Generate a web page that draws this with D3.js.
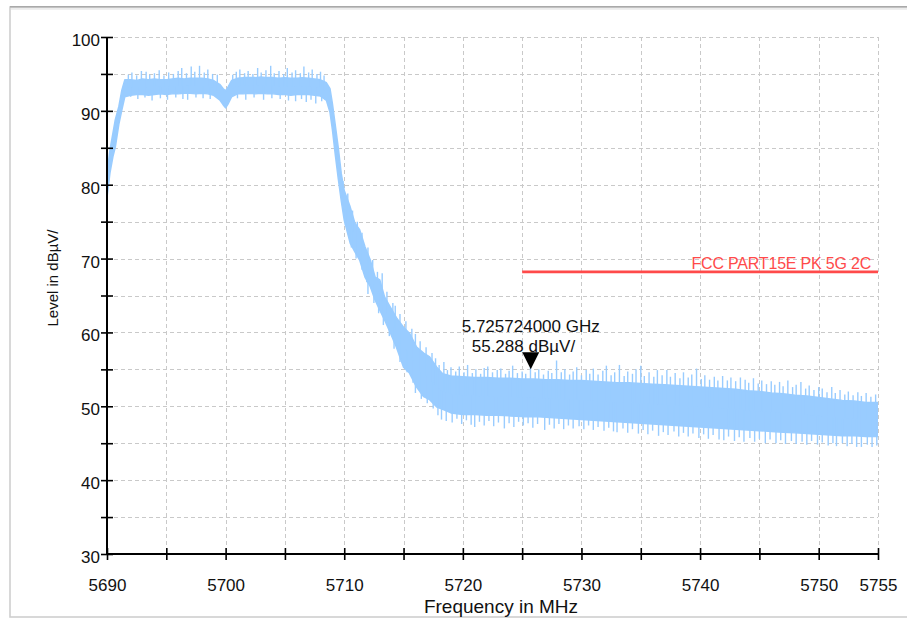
<!DOCTYPE html>
<html><head><meta charset="utf-8">
<script src="https://cdn.jsdelivr.net/npm/d3@7"></script>
<style>
body{margin:0;background:#fff}
svg{display:block}
text{font-family:"Liberation Sans",Arial,sans-serif}
</style>
</head><body>
<svg id="c" width="907" height="618"></svg>
<script>
// ---------- data ----------
// band of the noisy trace: lower and upper envelope of the dense core
const traceFreq = [5690.0,5690.25,5690.5,5690.7,5691.0,5691.25,5691.5,5692.0,5692.5,5693.0,5693.5,5694.0,5694.5,5695.0,5695.5,5696.0,5696.5,5697.0,5697.5,5698.0,5698.5,5699.0,5699.5,5699.8,5700.0,5700.2,5700.5,5701.0,5701.5,5702.0,5702.5,5703.0,5703.5,5704.0,5704.5,5705.0,5705.5,5706.0,5706.5,5707.0,5707.5,5708.0,5708.5,5708.8,5709.0,5709.25,5709.5,5709.75,5710.0,5710.5,5710.9,5711.3,5711.75,5712.2,5712.6,5713.0,5713.4,5713.9,5714.4,5715.0,5715.5,5716.1,5716.7,5717.2,5717.8,5718.3,5719.0,5720,5721,5722,5723,5724,5725,5726,5727,5728,5729,5730,5731,5732,5733,5734,5735,5736,5737,5738,5739,5740,5741,5742,5743,5744,5745,5746,5747,5748,5749,5750,5751,5752,5753,5754,5755];
const traceLow  = [78.3,81.6,83.8,85.1,88.2,90.1,91.9,92.1,92.2,92.2,92.1,92.2,92.3,92.2,92.3,92.3,92.4,92.4,92.3,92.4,92.3,92.1,91.5,90.8,90.4,90.9,91.9,92.3,92.3,92.4,92.3,92.4,92.3,92.3,92.2,92.2,92.1,92.2,92.2,92.2,92.1,92.0,91.4,89.8,87.5,84.0,80.8,77.8,75.2,72.1,70.9,69.8,67.5,66.2,64.4,63.0,61.7,59.9,58.0,55.3,54.5,52.6,51.3,50.9,49.9,49.6,49.1,48.9,48.9,48.8,48.8,48.7,48.6,48.6,48.5,48.4,48.3,48.2,48.1,48.0,47.9,47.8,47.7,47.6,47.5,47.4,47.3,47.2,47.1,47.0,46.9,46.8,46.7,46.6,46.5,46.4,46.3,46.2,46.1,46.0,46.0,45.9,45.9];
const traceHigh = [81.6,84.7,87.0,88.8,90.6,92.8,94.2,94.2,94.1,94.3,94.2,94.3,94.2,94.2,94.3,94.4,94.3,94.4,94.4,94.4,94.3,94.1,93.6,93.0,92.7,93.2,94.1,94.4,94.5,94.5,94.5,94.6,94.5,94.5,94.4,94.5,94.4,94.4,94.5,94.4,94.3,94.2,93.8,93.0,91.0,88.0,85.0,81.5,79.2,77.0,74.8,73.9,71.6,69.8,67.5,67.1,64.8,63.4,62.0,60.7,59.9,58.0,57.2,56.7,55.3,54.4,54.1,54.0,53.9,53.9,53.8,53.8,53.7,53.7,53.6,53.6,53.5,53.5,53.4,53.3,53.2,53.2,53.1,53.0,52.9,52.8,52.7,52.6,52.5,52.4,52.3,52.1,52.0,51.8,51.7,51.5,51.4,51.2,51.0,50.8,50.7,50.5,50.5];

// isolated noise spikes seen above the band
const spikeUpFreq  = [5691.8,5692.1,5692.5,5692.9,5693.3,5693.6,5694.0,5694.4,5694.8,5695.2,5695.6,5696.0,5696.3,5696.7,5697.1,5697.4,5697.8,5698.2,5698.5,5698.9,5699.3,5700.6,5700.9,5701.2,5701.6,5701.9,5702.3,5702.7,5703.0,5703.4,5703.8,5704.1,5704.5,5704.9,5705.2,5705.6,5705.9,5706.3,5706.6,5707.0,5707.3,5707.7,5708.0,5708.3,
  5709.9,5710.3,5710.7,5711.1,5711.5,5712.0,5712.4,5712.8,5713.2,5713.6,5714.1,5714.3,5714.7,5715.2,5715.7,5716.0,5716.4,5716.9,5717.4,5717.7,
  5718.0,5718.4,5718.7,5719.0,5719.4,5719.7,5720.1,5720.4,5720.8,5721.1,5721.5,5721.8,5722.1,5722.5,5722.9,5723.2,5723.6,5723.9,5724.2,5724.6,5725.0,5725.3,5725.7,5726.1,5726.4,5726.8,5727.2,5727.5,5727.9,5728.3,5728.6,5729.0,5729.3,5729.6,5730.0,5730.4,5730.7,5731.0,5731.4,5731.8,5732.1,5732.5,5732.8,5733.2,5733.6,5733.9,5734.3,5734.6,5735.0,5735.3,5735.7,5736.1,5736.4,5736.8,5737.2,5737.5,5737.9,5738.3,5738.6,5739.0,5739.3,5739.7,5740.1,5740.4,5740.8,5741.2,5741.5,5741.9,5742.3,5742.6,5743.0,5743.4,5743.8,5744.1,5744.5,5744.9,5745.2,5745.6,5746.0,5746.3,5746.7,5747.0,5747.4,5747.8,5748.1,5748.5,5748.9,5749.2,5749.6,5750.0,5750.3,5750.7,5751.1,5751.4,5751.8,5752.2,5752.5,5752.9,5753.3,5753.6,5754.0,5754.4,5754.8];
const spikeUpLevel = [94.9,95.2,94.8,95.4,95.3,94.9,95.1,95.5,94.8,95.2,95.0,95.4,95.8,95.1,96.0,95.3,96.1,95.2,95.6,95.0,94.9,94.9,95.3,95.6,95.1,95.4,95.0,95.8,95.2,95.5,96.1,95.1,95.4,95.0,95.8,95.2,95.5,95.1,96.0,95.2,95.6,95.0,95.3,94.8,
  80.5,78.8,76.5,75.0,73.5,71.5,69.8,68.2,68.0,65.5,64.0,63.6,62.5,61.5,60.5,59.8,58.8,58.0,57.2,56.5,
  55.6,56.0,54.9,55.3,54.7,55.4,54.6,55.6,54.5,55.0,54.4,55.2,55.4,54.6,54.9,55.1,54.4,54.8,55.5,54.5,54.7,54.4,55.3,54.6,55.0,54.3,54.8,54.5,56.2,54.6,55.0,54.3,54.7,55.3,54.2,54.9,54.4,55.1,54.3,54.8,55.5,54.2,54.6,55.6,54.1,54.7,54.4,55.0,55.5,54.1,54.6,54.0,54.9,54.2,54.9,54.0,54.5,53.8,54.6,53.9,54.3,55.1,53.7,54.2,53.6,54.0,53.5,54.1,53.5,53.9,53.4,53.9,53.6,53.2,53.8,53.1,53.5,53.0,53.4,52.9,53.3,52.7,53.5,52.6,52.9,53.3,52.4,52.8,52.2,52.6,52.4,51.9,52.6,51.8,52.2,51.6,52.0,51.5,51.9,51.4,51.8,51.3,51.6];
// isolated noise spikes seen below the band
const spikeDownFreq  = [5692.0,5692.6,5693.2,5693.8,5694.5,5695.1,5695.8,5696.4,5696.8,5697.5,5698.1,5698.7,5701.0,5701.7,5702.4,5703.2,5703.9,5704.6,5705.3,5705.9,5706.4,5706.8,5707.2,5707.6,5708.1,
  5710.1,5710.6,5711.0,5711.5,5711.9,5712.0,5712.5,5712.9,5713.3,5713.8,5714.2,5714.7,5715.3,5715.8,5716.0,5716.5,5717.0,5717.5,5717.9,
  5718.2,5718.6,5719.1,5719.5,5719.9,5720.3,5720.7,5721.0,5721.4,5721.8,5722.2,5722.6,5723.0,5723.5,5723.9,5724.3,5724.7,5725.1,5725.5,5725.9,5726.3,5726.9,5727.3,5727.7,5728.1,5728.5,5728.9,5729.3,5729.8,5730.2,5730.6,5731.0,5731.4,5731.9,5732.3,5732.7,5733.0,5733.5,5733.9,5734.3,5734.8,5735.2,5735.6,5736.0,5736.5,5736.9,5737.3,5737.8,5738.2,5738.6,5739.0,5739.4,5739.9,5740.3,5740.7,5741.1,5741.6,5742.0,5742.4,5742.9,5743.3,5743.7,5744.2,5744.6,5745.0,5745.5,5745.9,5746.4,5746.8,5747.2,5747.7,5748.1,5748.6,5749.0,5749.4,5749.9,5750.3,5750.8,5751.2,5751.5,5752.0,5752.4,5752.8,5753.2,5753.6,5754.1,5754.5,5754.9];
const spikeDownLevel = [91.9,91.6,91.8,91.4,91.7,91.5,91.8,91.6,91.5,91.8,91.7,91.6,91.7,91.5,91.8,91.5,91.7,91.6,91.4,91.3,91.6,91.2,91.5,91.0,91.3,
  74.5,71.5,70.0,68.5,66.8,65.2,64.0,62.6,61.0,59.5,57.8,56.0,54.6,53.2,51.8,51.0,50.4,49.7,48.8,
  48.2,48.0,47.8,48.3,47.6,48.1,47.5,47.2,47.9,47.4,48.0,47.3,47.8,47.0,47.7,47.2,47.9,47.4,47.7,47.1,47.6,46.8,47.5,47.0,47.6,46.9,47.4,47.0,47.3,46.9,47.4,46.8,47.2,46.7,47.1,46.6,46.5,47.0,46.4,46.9,46.3,46.8,46.2,46.7,46.0,46.5,46.1,46.6,45.9,46.4,45.9,46.3,45.7,46.2,45.6,46.1,45.5,45.4,45.9,45.3,45.8,45.2,45.7,45.2,45.6,45.0,45.5,45.0,45.4,44.9,45.3,44.9,45.2,44.8,45.3,44.8,45.1,44.7,45.0,44.6,45.0,44.6,44.9,44.5,44.5,44.8,44.5,44.7];

const limitFreq  = [5725, 5755];
const limitLevel = 68.2;
const limitName  = "FCC PART15E PK 5G 2C";

const markerFreq  = 5725.724;
const markerLevel = 55.288;
const markerLines = ["5.725724000 GHz", "55.288 dBµV/"];

const xTickValues = [5690,5695,5700,5705,5710,5715,5720,5725,5730,5735,5740,5745,5750,5755];
const xTickLabels = ["5690","","5700","","5710","","5720","","5730","","5740","","5750","5755"];
const yTickValues = [30,35,40,45,50,55,60,65,70,75,80,85,90,95,100];
const yTickLabels = ["30","","40","","50","","60","","70","","80","","90","","100"];
const xTitle = "Frequency in MHz";
const yTitle = "Level in dBµV/";

// ---------- drawing ----------
const svg = d3.select("#c");
const L = 107, R = 878, T = 37, B = 554;
const x = d3.scaleLinear().domain([5690, 5755]).range([L, R]);
const y = d3.scaleLinear().domain([30, 100]).range([B, T]);

// frame
svg.append("rect").attr("x",10).attr("y",7).attr("width",930).attr("height",610)
  .attr("fill","#fff").attr("stroke","#cfcfcf").attr("stroke-width",1.6);
svg.append("rect").attr("x",11).attr("y",7.8).attr("width",930).attr("height",2)
  .attr("fill","#ececec");
svg.append("line").attr("x1",10).attr("x2",907).attr("y1",6.8).attr("y2",6.8)
  .attr("stroke","#a9a9a9").attr("stroke-width",1.4);

const defs = svg.append("defs");
defs.append("clipPath").attr("id","plot").append("rect")
  .attr("x",L).attr("y",T).attr("width",R-L).attr("height",B-T);

// grid
const grid = svg.append("g").attr("stroke","#c9c9c9").attr("stroke-width",1)
  .attr("stroke-dasharray","4,3").attr("shape-rendering","crispEdges");
grid.selectAll(".gx").data(xTickValues.filter(v => v !== 5690)).join("line")
  .attr("x1",d=>Math.round(x(d))+0.5).attr("x2",d=>Math.round(x(d))+0.5).attr("y1",T).attr("y2",B);
grid.selectAll(".gy").data(yTickValues.filter(v => v !== 30)).join("line")
  .attr("y1",d=>Math.round(y(d))+0.5).attr("y2",d=>Math.round(y(d))+0.5).attr("x1",L).attr("x2",R);

// trace
const plot = svg.append("g").attr("clip-path","url(#plot)");
const blue = "#99ccff";
const traceData = traceFreq.map((f,i)=>({f, lo:traceLow[i], hi:traceHigh[i]}));
plot.append("path").datum(traceData)
  .attr("d", d3.area().x(d=>x(d.f)).y0(d=>y(d.lo)).y1(d=>y(d.hi)))
  .attr("fill",blue).attr("stroke",blue).attr("stroke-width",1.5).attr("stroke-linejoin","round");

const hiAt = d3.scaleLinear().domain(traceFreq).range(traceHigh);
const loAt = d3.scaleLinear().domain(traceFreq).range(traceLow);
const mid = f => (hiAt(f)+loAt(f))/2;
plot.selectAll(".su").data(spikeUpFreq.map((f,i)=>({f,v:spikeUpLevel[i]}))).join("line")
  .attr("x1",d=>x(d.f)).attr("x2",d=>x(d.f))
  .attr("y1",d=>y(d.v)).attr("y2",d=>y(mid(d.f)))
  .attr("stroke",blue).attr("stroke-width",1.4);
plot.selectAll(".sd").data(spikeDownFreq.map((f,i)=>({f,v:spikeDownLevel[i]}))).join("line")
  .attr("x1",d=>x(d.f)).attr("x2",d=>x(d.f))
  .attr("y1",d=>y(d.v)).attr("y2",d=>y(mid(d.f)))
  .attr("stroke",blue).attr("stroke-width",1.4);

// limit line
const red = "#ff4a4a";
svg.append("line").attr("x1",x(limitFreq[0])).attr("x2",x(limitFreq[1]))
  .attr("y1",y(limitLevel)).attr("y2",y(limitLevel))
  .attr("stroke",red).attr("stroke-width",2.7);
svg.append("text").attr("x",x(limitFreq[1])-7).attr("y",y(limitLevel)-3)
  .attr("text-anchor","end").attr("fill",red).attr("font-size",16)
  .attr("letter-spacing","-0.2").text(limitName);

// marker
const mx = x(markerFreq), my = y(markerLevel);
svg.append("path")
  .attr("d",`M${mx-8.5},${my-15}L${mx+8.5},${my-15}L${mx},${my+2}Z`).attr("fill","#000");
svg.append("text").attr("x",mx).attr("y",my-35.5).attr("text-anchor","middle")
  .attr("font-size",17).attr("fill","#111").text(markerLines[0]);
svg.append("text").attr("x",mx-59).attr("y",my-15.5)
  .attr("font-size",17).attr("fill","#111").text(markerLines[1]);

// axes
const yAxis = svg.append("g").attr("transform",`translate(${L},0)`)
  .call(d3.axisLeft(y).tickValues(yTickValues).tickFormat((d,i)=>yTickLabels[i]).tickSize(6).tickPadding(7));
const xAxis = svg.append("g").attr("transform",`translate(0,${B})`)
  .call(d3.axisBottom(x).tickValues(xTickValues).tickFormat((d,i)=>xTickLabels[i]).tickSize(6).tickPadding(19));
[yAxis, xAxis].forEach(g=>{
  g.select(".domain").attr("stroke","#000").attr("stroke-width",2);
  g.selectAll(".tick line").attr("stroke","#000").attr("stroke-width",1.6);
  g.selectAll(".tick text").attr("font-size",17).attr("fill","#111")
    .attr("font-family","'Liberation Sans',Arial,sans-serif");
});
yAxis.select(".domain").attr("d",`M0,${T}V${B}`);
xAxis.select(".domain").attr("d",`M${L},0H${R}`);
yAxis.selectAll(".tick line").attr("x1",6).attr("x2",-6);
yAxis.selectAll(".tick text").attr("dy","0.5em").attr("x",-7);
xAxis.selectAll(".tick line").attr("y1",-6).attr("y2",6);

// titles
svg.append("text").attr("transform","translate(58,278) rotate(-90)")
  .attr("text-anchor","middle").attr("font-size",15).attr("fill","#111").text(yTitle);
svg.append("text").attr("x",501).attr("y",613).attr("text-anchor","middle")
  .attr("font-size",19).attr("fill","#111").text(xTitle);
</script>
</body></html>
